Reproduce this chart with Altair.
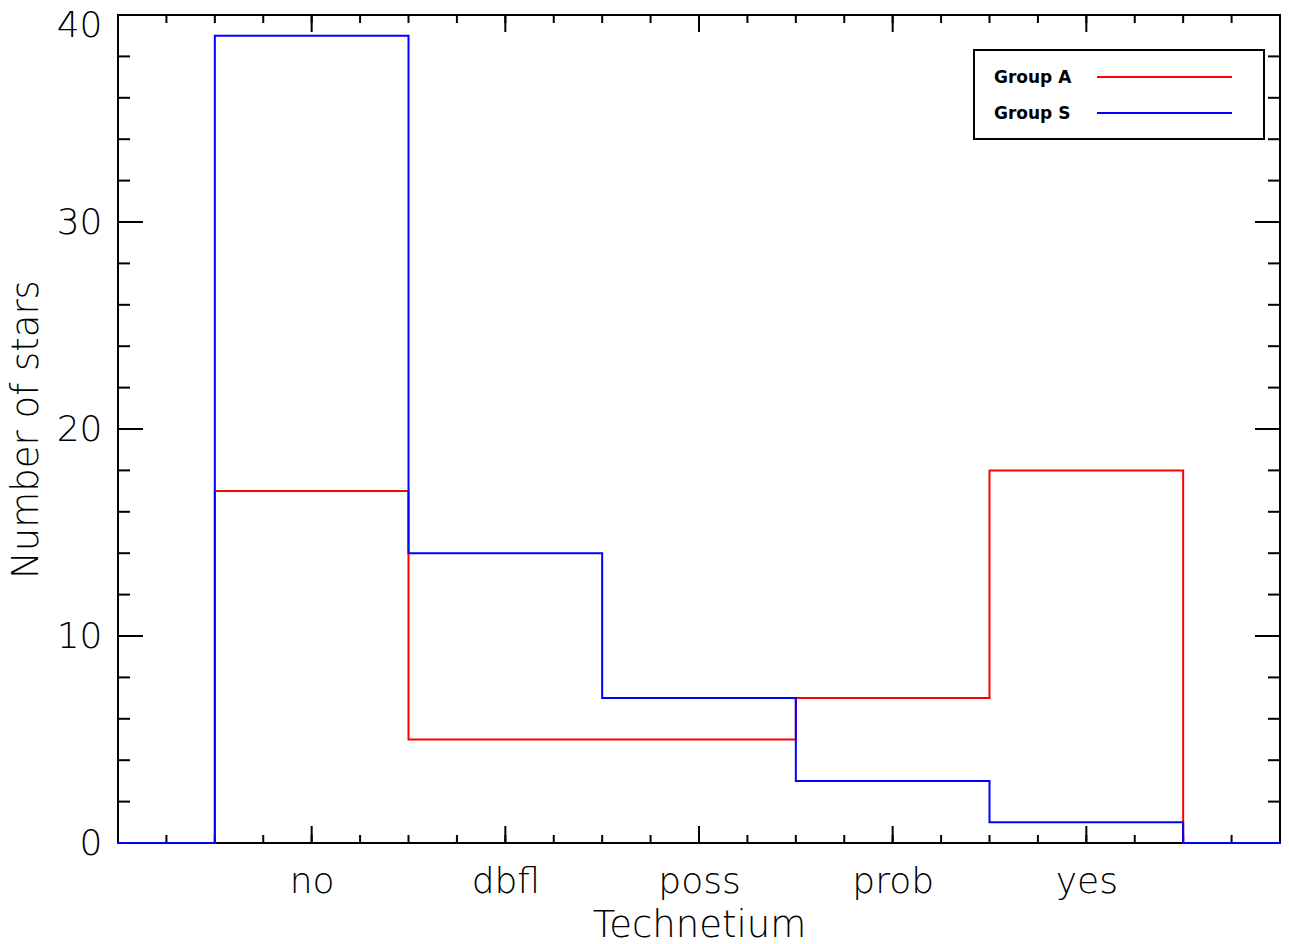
import json
import numpy as np
import pandas as pd
import altair as alt

categories = ["no", "dbfl", "poss", "prob", "yes"]
series_names = ["Group A", "Group S"]
group_a = [17, 5, 5, 7, 18]
group_s = [39, 14, 7, 3, 1]
series_colors = ["#ff0000", "#0000ff"]

x_major_ticks = [0, 1, 2, 3, 4]
x_minor_ticks = list(np.arange(-1, 5.001, 0.25))
y_major_ticks = [0, 10, 20, 30, 40]
y_minor_ticks = list(range(0, 41, 2))

W, H = 1162, 828
FONT = "DejaVu Sans"
FS = 36
TFS = 37

rows = []
for name, vals in zip(series_names, [group_a, group_s]):
    rows.append({"series": name, "x": -1.0, "y": 0})
    for i, v in enumerate(vals):
        rows.append({"series": name, "x": i - 0.5, "y": v})
    rows.append({"series": name, "x": len(vals) - 0.5, "y": 0})
    rows.append({"series": name, "x": 5.0, "y": 0})
steps = pd.DataFrame(rows)

xs = alt.Scale(domain=[-1, 5], nice=False, zero=False)
ys = alt.Scale(domain=[0, 40], nice=False, zero=False)

label_expr = json.dumps(categories) + "[datum.value]"

def xticks(vals, length):
    df = pd.DataFrame({"x": vals})
    bottom = alt.Chart(df).mark_rule(color="black", strokeWidth=2).encode(
        x=alt.X("x:Q", scale=xs), y=alt.value(H), y2=alt.value(H - length))
    top = alt.Chart(df).mark_rule(color="black", strokeWidth=2).encode(
        x=alt.X("x:Q", scale=xs), y=alt.value(0), y2=alt.value(length))
    return [bottom, top]

def yticks(vals, length):
    df = pd.DataFrame({"y": vals})
    left = alt.Chart(df).mark_rule(color="black", strokeWidth=2).encode(
        y=alt.Y("y:Q", scale=ys), x=alt.value(0), x2=alt.value(length))
    right = alt.Chart(df).mark_rule(color="black", strokeWidth=2).encode(
        y=alt.Y("y:Q", scale=ys), x=alt.value(W), x2=alt.value(W - length))
    return [left, right]

tick_layers = xticks(x_minor_ticks, 8) + xticks(x_major_ticks, 17) + yticks(y_minor_ticks, 12) + yticks(y_major_ticks, 25)

lines = alt.Chart(steps).mark_line(interpolate="step-after", strokeWidth=2, strokeCap="square").encode(
    x=alt.X("x:Q", scale=xs, axis=alt.Axis(values=x_major_ticks, labelExpr=label_expr, ticks=False, domain=False,
                                          grid=False, labelPadding=21, title="Technetium", titlePadding=8,
                                          labelFontSize=FS, titleFontSize=TFS, labelFont=FONT, titleFont=FONT,
                                          labelFontWeight=200, titleFontWeight=200, labelColor="black",
                                          titleColor="black", labelFlush=False)),
    y=alt.Y("y:Q", scale=ys, axis=alt.Axis(values=y_major_ticks, ticks=False, domain=False, grid=False,
                                          labelPadding=16, title="Number of stars", titlePadding=11,
                                          labelFontSize=FS, titleFontSize=TFS, labelFont=FONT, titleFont=FONT,
                                          labelFontWeight=200, titleFontWeight=200, labelColor="black",
                                          titleColor="black", labelFlush=False,
                                          labelOffset={"condition": {"test": "datum.value == 40", "value": 10}, "value": 0})),
    color=alt.Color("series:N", scale=alt.Scale(domain=series_names, range=series_colors), legend=None),
    detail="series:N",
)

one = pd.DataFrame({"a": [0]})
legend_box = alt.Chart(one).mark_rect(fill="white", stroke="black", strokeWidth=2).encode(
    x=alt.value(856), x2=alt.value(1146), y=alt.value(35), y2=alt.value(124))
legend_layers = [legend_box]
for i, (name, col) in enumerate(zip(series_names, series_colors)):
    yy = 62 + 36 * i
    legend_layers.append(alt.Chart(one).mark_rule(color=col, strokeWidth=2).encode(
        x=alt.value(979), x2=alt.value(1114), y=alt.value(yy)))
    legend_layers.append(alt.Chart(pd.DataFrame({"s": [name]})).mark_text(
        align="left", baseline="middle", font=FONT, fontSize=17, fontWeight="bold", color="black").encode(
        x=alt.value(876), y=alt.value(yy + 1), text="s:N"))

chart = alt.layer(*tick_layers, lines, *legend_layers).properties(
    width=W, height=H,
    background="white",
    autosize=alt.AutoSizeParams(type="none"),
    padding={"left": 110, "top": 7, "right": 1, "bottom": 101},
).configure_view(stroke="black", strokeWidth=2)

chart.save("out.html", embed_options={"renderer": "svg", "actions": False})
